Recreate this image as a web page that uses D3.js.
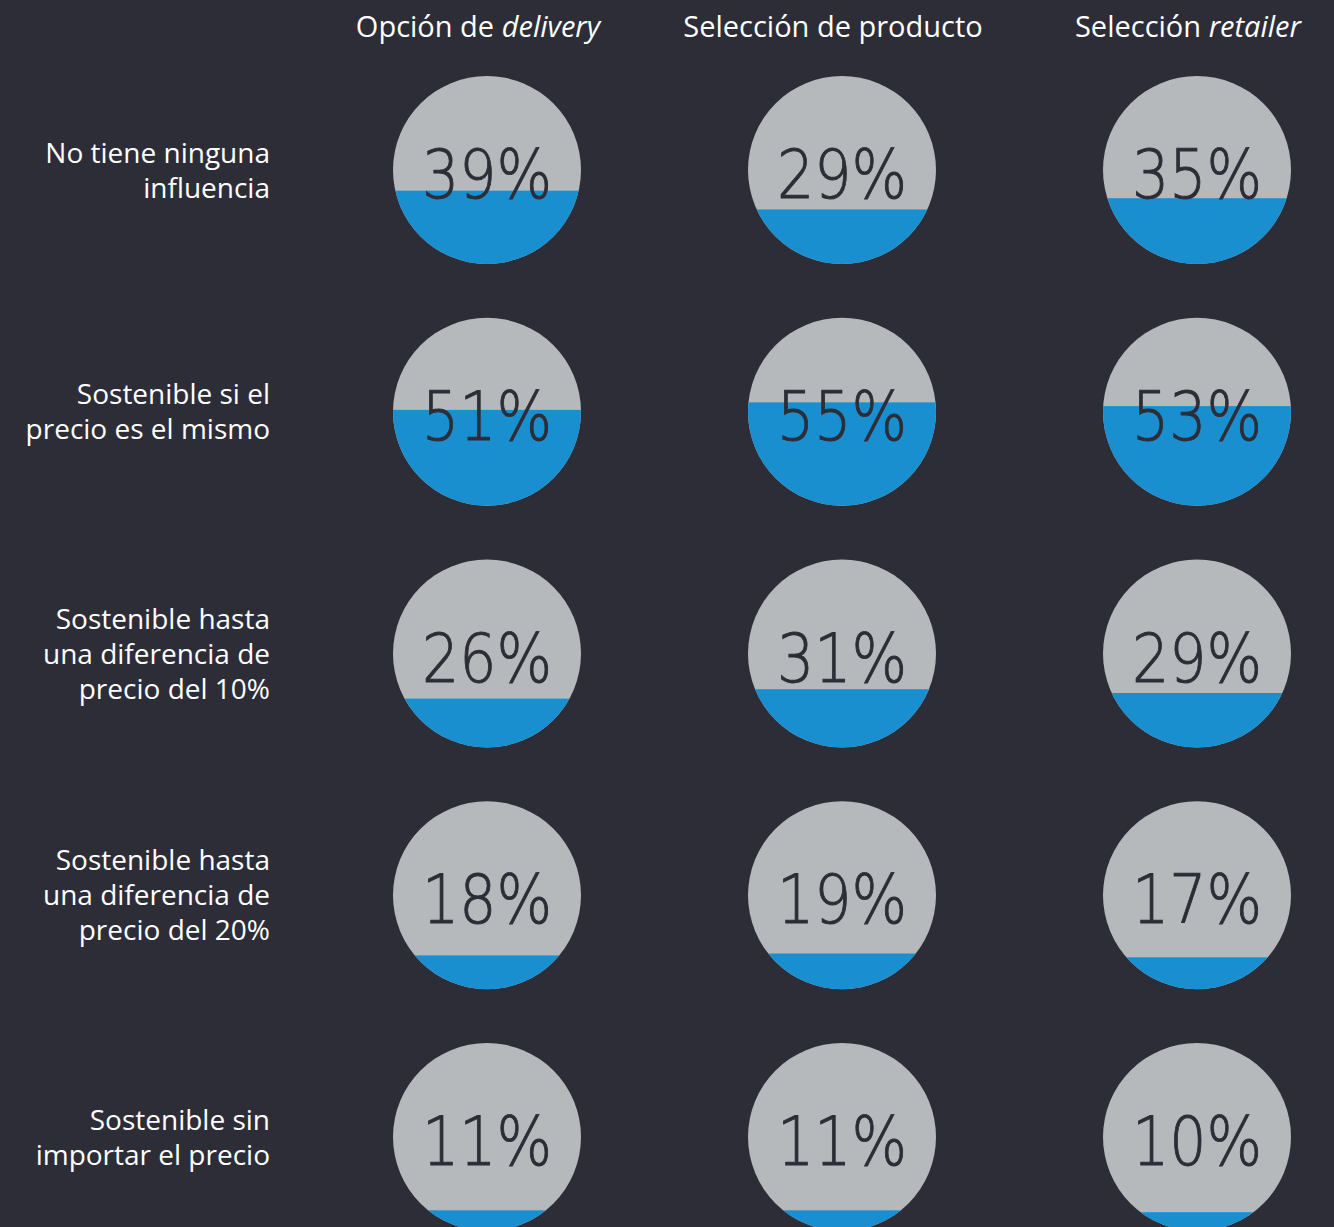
<!DOCTYPE html>
<html>
<head>
<meta charset="utf-8">
<script src="https://cdn.jsdelivr.net/npm/d3@7"></script>
<style>
  html, body { margin: 0; padding: 0; background: #2d2d37; }
  svg { display: block; }
</style>
</head>
<body>
<div id="chart"></div>
<script>
// Data
const columns = ["delivery", "producto", "retailer"];
const columnTitles = [
  [{ t: "Opción de ", i: false }, { t: "delivery", i: true }],
  [{ t: "Selección de producto", i: false }],
  [{ t: "Selección ", i: false }, { t: "retailer", i: true }]
];
const rows = [
  ["No tiene ninguna", "influencia"],
  ["Sostenible si el", "precio es el mismo"],
  ["Sostenible hasta", "una diferencia de", "precio del 10%"],
  ["Sostenible hasta", "una diferencia de", "precio del 20%"],
  ["Sostenible sin", "importar el precio"]
];
const deliveryValues = [39, 51, 26, 18, 11];
const productoValues = [29, 55, 31, 19, 11];
const retailerValues = [35, 53, 29, 17, 10];
const seriesValues = [deliveryValues, productoValues, retailerValues];

const width = 1334;
const height = 1227;
const radius = 94;

const bg = "#2d2d37";
const gray = "#b6b9bc";
const blue = "#1a8fd0";

const svg = d3.select("#chart")
    .append("svg")
    .attr("width", width)
    .attr("height", height);

svg.append("rect")
    .attr("width", width)
    .attr("height", height)
    .attr("fill", bg);

// column and row positions
const x = d3.scalePoint()
    .domain(columns)
    .range([487, 1197]);

const y = d3.scalePoint()
    .domain(d3.range(rows.length))
    .range([170, 1137]);

// fill level inside a circle (relative to its centre)
const level = d3.scaleLinear()
    .domain([0, 100])
    .range([radius, -radius]);

// column headers
columns.forEach((c, ci) => {
    const t = svg.append("text")
        .attr("x", x(c) - 9)
        .attr("y", 37)
        .attr("text-anchor", "middle")
        .attr("fill", "#ffffff")
        .style("font-family", "'Open Sans', sans-serif")
        .style("font-size", "29px");
    columnTitles[ci].forEach(p => {
        t.append("tspan")
            .style("font-style", p.i ? "italic" : "normal")
            .text(p.t);
    });
});

// row labels
const lineH = 35;
rows.forEach((lines, ri) => {
    const t = svg.append("text")
        .attr("text-anchor", "end")
        .attr("fill", "#ffffff")
        .style("font-family", "'Open Sans', sans-serif")
        .style("font-size", "28px");
    const top = y(ri) - (lines.length - 1) * lineH / 2 + 10;
    lines.forEach((l, li) => {
        t.append("tspan")
            .attr("x", 270)
            .attr("y", top + li * lineH)
            .text(l);
    });
});

// cells
const defs = svg.append("defs");
const cells = [];
columns.forEach((c, ci) => {
    seriesValues[ci].forEach((v, ri) => {
        cells.push({ col: c, row: ri, value: v });
    });
});

cells.forEach((d, i) => {
    defs.append("clipPath")
        .attr("id", "clip" + i)
        .append("circle")
        .attr("r", radius);
});

const g = svg.selectAll("g.cell")
    .data(cells)
    .enter().append("g")
    .attr("class", "cell")
    .attr("transform", d => `translate(${x(d.col)},${y(d.row)})`);

g.append("circle")
    .attr("r", radius)
    .attr("fill", gray);

g.append("rect")
    .attr("clip-path", (d, i) => `url(#clip${i})`)
    .attr("x", -radius)
    .attr("width", radius * 2)
    .attr("y", d => level(d.value))
    .attr("height", d => radius - level(d.value))
    .attr("fill", blue);

g.append("text")
    .attr("text-anchor", "middle")
    .attr("y", 28)
    .attr("fill", bg)
    .attr("stroke", bg)
    .attr("stroke-width", 0.9)
    .style("font-family", "'DejaVu Sans', sans-serif")
    .style("font-weight", 200)
    .style("font-size", "68px")
    .attr("textLength", 130)
    .attr("lengthAdjust", "spacingAndGlyphs")
    .text(d => d.value + "%");
</script>
</body>
</html>
